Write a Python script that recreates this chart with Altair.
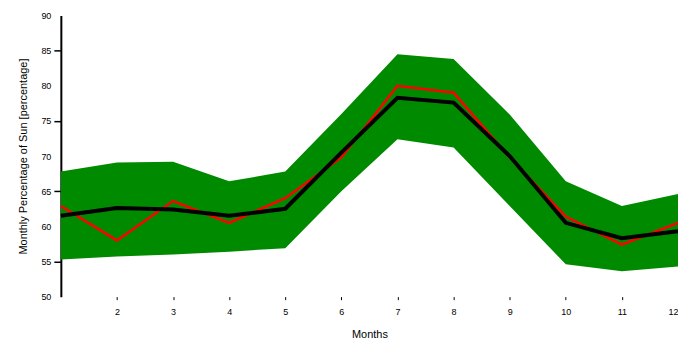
import altair as alt
import pandas as pd

months = [1, 2, 3, 4, 5, 6, 7, 8, 9, 10, 11, 12]
observed = [62.9, 58.0, 63.6, 60.5, 64.0, 69.8, 80.0, 79.0, 69.8, 61.4, 57.4, 60.5]
mean_model = [61.5, 62.6, 62.4, 61.5, 62.5, 70.5, 78.3, 77.6, 70.0, 60.5, 58.3, 59.3]
band_upper = [67.8, 69.1, 69.2, 66.4, 67.8, 76.0, 84.5, 83.8, 75.9, 66.4, 62.9, 64.6]
band_lower = [55.3, 55.7, 56.0, 56.4, 56.9, 65.0, 72.4, 71.2, 62.9, 54.6, 53.6, 54.3]

x_ticks = [2, 3, 4, 5, 6, 7, 8, 9, 10, 11, 12]
y_ticks = [50, 55, 60, 65, 70, 75, 80, 85, 90]

df = pd.DataFrame({
    "month": months,
    "observed": observed,
    "mean": mean_model,
    "upper": band_upper,
    "lower": band_lower,
})

FONT = "Liberation Sans"

xscale = alt.Scale(domain=[1, 12], nice=False, zero=False)
xaxis = alt.Axis(
    values=x_ticks, format="d", title="Months", domain=False, grid=False,
    tickSize=3, tickColor="black", labelPadding=8, titlePadding=12,
    labelFontSize=9, titleFontSize=11, labelColor="black", labelOverlap=False,
    titleColor="black", titleFontWeight="normal", labelFont=FONT, titleFont=FONT,
)
yscale = alt.Scale(domain=[50, 90], nice=False, zero=False)
yaxis = alt.Axis(
    values=y_ticks, format="d", title="Monthly Percentage of Sun [percentage]", grid=False,
    domainColor="black", domainWidth=2, tickColor="black", tickSize=7, tickWidth=1.5,
    tickOpacity=alt.expr("datum.value % 10 == 5 ? 1 : 0"),
    labelOverlap=False, labelBound=False, labelFlush=False,
    labelPadding=3, titlePadding=12, labelFontSize=9, titleFontSize=11,
    labelColor="black", titleColor="black", titleFontWeight="normal",
    labelFont=FONT, titleFont=FONT,
)

band = alt.Chart(df).mark_area(color="#008a00", opacity=1).encode(
    x=alt.X("month:Q", scale=xscale, axis=xaxis),
    y=alt.Y("lower:Q", scale=yscale, axis=yaxis),
    y2="upper:Q",
)
red = alt.Chart(df).mark_line(color="#ff0000", strokeWidth=2.5).encode(
    x=alt.X("month:Q", scale=xscale, axis=xaxis),
    y=alt.Y("observed:Q", scale=yscale, axis=yaxis),
)
black = alt.Chart(df).mark_line(color="black", strokeWidth=4).encode(
    x=alt.X("month:Q", scale=xscale, axis=xaxis),
    y=alt.Y("mean:Q", scale=yscale, axis=yaxis),
)

chart = (band + red + black).properties(
    width=619, height=282,
    autosize=alt.AutoSizeParams(type="none"),
    padding={"left": 53, "top": 7, "right": 0, "bottom": 45},
).configure_view(stroke=None)

chart.save("out.html", embed_options={"renderer": "svg", "actions": False})
